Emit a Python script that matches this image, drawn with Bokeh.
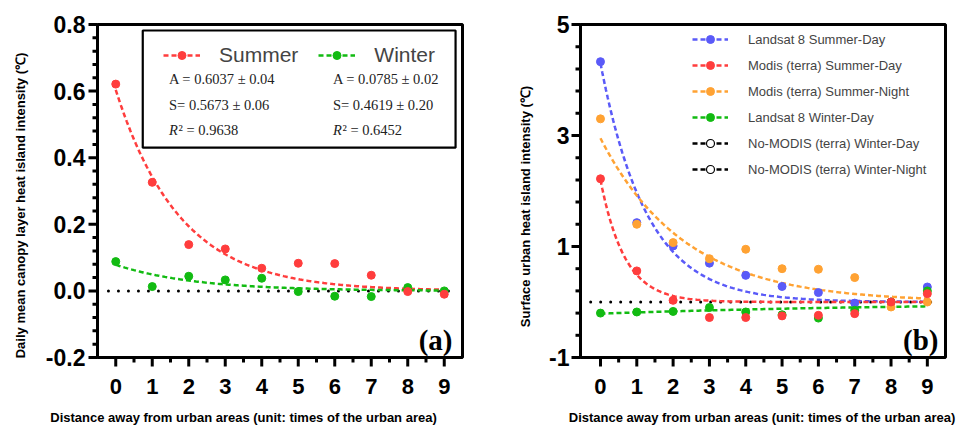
import numpy as np
from bokeh.plotting import figure
from bokeh.layouts import row
from bokeh.core.properties import value
from bokeh.models import Range1d, Legend, LegendItem
from bokeh.embed import file_html
from bokeh.resources import INLINE

# ---------------- data ----------------
distance = [0, 1, 2, 3, 4, 5, 6, 7, 8, 9]
x_tick_labels = ["0", "1", "2", "3", "4", "5", "6", "7", "8", "9"]
x_minor = [0.5, 1.5, 2.5, 3.5, 4.5, 5.5, 6.5, 7.5, 8.5]

# panel (a): canopy layer heat island intensity
summer_canopy = [0.621, 0.326, 0.139, 0.126, 0.068, 0.083, 0.082, 0.047, -0.002, -0.010]
winter_canopy = [0.088, 0.013, 0.044, 0.033, 0.038, -0.002, -0.016, -0.017, 0.010, 0.000]
summer_fit_A, summer_fit_S = 0.6037, 0.5673
winter_fit_A, winter_fit_S = 0.0785, 0.4619
y_ticks_a = [-0.2, 0.0, 0.2, 0.4, 0.6, 0.8]
y_tick_labels_a = ["-0.2", "0.0", "0.2", "0.4", "0.6", "0.8"]

# panel (b): surface urban heat island intensity
landsat_summer_day = [4.33, 1.43, 1.01, 0.70, 0.48, 0.28, 0.17, -0.02, 0.00, 0.27]
modis_summer_day = [2.22, 0.56, 0.03, -0.28, -0.28, -0.25, -0.24, -0.21, 0.00, 0.15]
modis_summer_night = [3.30, 1.40, 1.07, 0.78, 0.95, 0.60, 0.59, 0.44, -0.09, 0.00]
landsat_winter_day = [-0.20, -0.18, -0.17, -0.10, -0.18, -0.23, -0.29, -0.15, 0.00, 0.20]
no_modis_winter_day = []
no_modis_winter_night = []
# estimated exponential fit parameters (A, S) for y = A*exp(-S*x)
fit_landsat_summer_day = (4.30, 0.78)
fit_modis_summer_day = (2.20, 1.50)
fit_modis_summer_night = (2.95, 0.43)
fit_landsat_winter_day = (-0.21, 0.11)
y_ticks_b = [-1, 1, 3, 5]
y_tick_labels_b = ["-1", "1", "3", "5"]

RED = "#FF3D3D"
GREEN = "#12BB12"
BLUE = "#5A5AF8"
ORANGE = "#FFA233"
FONT = "Liberation Sans"
SERIF = "Liberation Serif"
XLABEL = "Distance away from urban areas (unit: times of the urban area)"
HEIGHT = 425

xfit = np.linspace(0, 9, 181)


def fit(A, S):
    return A * np.exp(-S * xfit)


def minor_between(major, n):
    out = []
    for a, b in zip(major[:-1], major[1:]):
        step = (b - a) / (n + 1)
        out += [round(a + step * k, 4) for k in range(1, n + 1)]
    return out


class Panel:
    """Figure whose frame is the whole canvas; the plotting box sits at pixel L..R, T..B."""

    def __init__(self, W, L, R, T, B, x0, x1, y0, y1):
        self.x0, self.x1, self.y0, self.y1 = x0, x1, y0, y1
        self.L, self.B = L, B
        self.sx = (x1 - x0) / (R - L)
        self.sy = (y1 - y0) / (B - T)
        self.p = figure(width=W, height=HEIGHT,
                        x_range=Range1d(x0 - L * self.sx, x1 + (W - R) * self.sx),
                        y_range=Range1d(y0 - (HEIGHT - B) * self.sy, y1 + T * self.sy),
                        min_border=0, x_axis_location=None, y_axis_location=None,
                        output_backend="svg", toolbar_location=None)
        self.p.grid.visible = False
        self.p.outline_line_color = None
        self.p.title.visible = False

    def X(self, px):
        return self.x0 + (px - self.L) * self.sx

    def Y(self, py):
        return self.y0 + (self.B - py) * self.sy

    def axes(self, yticks, yminor, ylabels, ylab_right_px):
        p, x0, x1, y0, y1 = self.p, self.x0, self.x1, self.y0, self.y1
        p.quad(left=[x0], right=[x1], bottom=[y0], top=[y1], fill_color=None,
               line_color="black", line_width=3)
        sx0, sy0, sx1, sy1 = [], [], [], []
        for t, ln in [(t, 9) for t in distance] + [(t, 5) for t in x_minor]:
            sx0.append(t); sx1.append(t); sy0.append(y0); sy1.append(y0 - ln * self.sy)
        for t, ln in [(t, 9) for t in yticks] + [(t, 5) for t in yminor]:
            sx0.append(x0); sx1.append(x0 - ln * self.sx); sy0.append(t); sy1.append(t)
        p.segment(x0=sx0, y0=sy0, x1=sx1, y1=sy1, line_color="black", line_width=3)
        self.yticks, self.ylabels, self.ylab_right_px = yticks, ylabels, ylab_right_px

    def labels(self, xtitle_cx, ytitle, ytitle_cx, ytitle_cy):
        p = self.p
        p.text(x=distance, y=[self.Y(386)] * len(distance), text=x_tick_labels,
               text_font=value(FONT), text_font_size="22px", text_font_style="bold",
               text_align="center", text_baseline="middle", text_color="black")
        p.text(x=[self.X(self.ylab_right_px)] * len(self.yticks), y=self.yticks, text=self.ylabels,
               text_font=value(FONT), text_font_size="23px", text_font_style="bold",
               text_align="right", text_baseline="middle", text_color="black")
        p.text(x=[self.X(xtitle_cx)], y=[self.Y(417)], text=[XLABEL], text_font=value(FONT),
               text_font_size="13px", text_font_style="bold", text_align="center",
               text_baseline="middle", text_color="black")
        p.text(x=[self.X(ytitle_cx)], y=[self.Y(ytitle_cy)], text=[ytitle], angle=np.pi / 2,
               text_font=value(FONT), text_font_size="13px", text_font_style="bold",
               text_align="center", text_baseline="middle", text_color="black")


# ---------------- panel (a) ----------------
A = Panel(480, 97, 462, 24, 357, -0.5, 9.5, -0.2, 0.8)
p1 = A.p
A.axes(y_ticks_a, minor_between(y_ticks_a, 4), y_tick_labels_a, 85)
# legend box
p1.quad(left=[0.74], right=[9.31], bottom=[0.43], top=[0.782], fill_color=None,
        line_color="black", line_width=2.2)

p1.line([-0.2, 9.3], [0, 0], line_color="black", line_width=3, line_dash="0 10", line_cap="round")
ls = p1.line(xfit, fit(summer_fit_A, summer_fit_S), line_color=RED, line_width=2.5, line_dash="5 3")
lw = p1.line(xfit, fit(winter_fit_A, winter_fit_S), line_color=GREEN, line_width=2.5, line_dash="5 3")
pw = p1.scatter(distance, winter_canopy, size=8, color=GREEN)
ps = p1.scatter(distance, summer_canopy, size=8, color=RED)

A.labels(243, "Daily mean canopy layer heat island intensity (\u2103)", 20, 205)

stats_cols = [1.46, 5.95]
stats_A = ["A = 0.6037 \u00b1 0.04", "A = 0.0785 \u00b1 0.02"]
stats_S = ["S= 0.5673 \u00b1 0.06", "S= 0.4619 \u00b1 0.20"]
stats_R2 = ["\u00b2 = 0.9638", "\u00b2 = 0.6452"]
p1.text(x=stats_cols * 2, y=[0.637, 0.637, 0.559, 0.559], text=stats_A + stats_S,
        text_font=value(SERIF), text_font_size="14.5px", text_baseline="middle", text_align="left",
        text_color="#222222")
p1.text(x=stats_cols, y=[0.484, 0.484], text=["R", "R"], text_font=value(SERIF),
        text_font_size="14.5px", text_font_style="italic", text_baseline="middle",
        text_align="left", text_color="#222222")
p1.text(x=stats_cols, y=[0.484, 0.484], x_offset=9.5, text=stats_R2, text_font=value(SERIF),
        text_font_size="14.5px", text_baseline="middle", text_align="left", text_color="#222222")
p1.text(x=[A.X(452)], y=[A.Y(339)], text=["(a)"], text_font=value(SERIF), text_font_size="29px",
        text_font_style="bold", text_align="right", text_baseline="middle", text_color="black")

leg1 = Legend(items=[LegendItem(label="Summer", renderers=[ls, ps]),
                     LegendItem(label="Winter", renderers=[lw, pw])],
              orientation="horizontal", location=(163, 358), glyph_width=37, glyph_height=20,
              label_standoff=19, spacing=20, padding=0, margin=0,
              label_text_font=FONT, label_text_font_size="21px",
              border_line_color=None, background_fill_alpha=0)
p1.add_layout(leg1)

# ---------------- panel (b) ----------------
Bp = Panel(489, 100, 465, 24, 357, -0.55, 9.5, -1, 5)
p2 = Bp.p
Bp.axes(y_ticks_b, minor_between(y_ticks_b, 4), y_tick_labels_b, 89)

p2.line([-0.27, 9.3], [0, 0], line_color="black", line_width=3, line_dash="0 10", line_cap="round")
series = [("Landsat 8 Summer-Day", landsat_summer_day, fit_landsat_summer_day, BLUE),
          ("Modis (terra) Summer-Day", modis_summer_day, fit_modis_summer_day, RED),
          ("Modis (terra) Summer-Night", modis_summer_night, fit_modis_summer_night, ORANGE),
          ("Landsat 8 Winter-Day", landsat_winter_day, fit_landsat_winter_day, GREEN)]
lines = {}
for name, vals, (fa, fs), col in series:
    lines[name] = p2.line(xfit, fit(fa, fs), line_color=col, line_width=2.5, line_dash="5 3")
pts = {}
for name in ["Landsat 8 Summer-Day", "Landsat 8 Winter-Day", "Modis (terra) Summer-Night",
             "Modis (terra) Summer-Day"]:
    vals, col = [(v, c) for n, v, f, c in series if n == name][0]
    pts[name] = p2.scatter(distance, vals, size=8, color=col)

items = [LegendItem(label=n, renderers=[lines[n], pts[n]]) for n, _, _, _ in series]
for name, vals in [("No-MODIS (terra) Winter-Day", no_modis_winter_day),
                   ("No-MODIS (terra) Winter-Night", no_modis_winter_night)]:
    ys = vals if vals else [np.nan]
    xs = distance[:len(ys)]
    l = p2.line(xs, ys, line_color="black", line_width=2.5, line_dash="5 3")
    c = p2.scatter(xs, ys, size=8, fill_color="white", line_color="black", line_width=1.2)
    items.append(LegendItem(label=name, renderers=[l, c]))

Bp.labels(281.5, "Surface urban heat island intensity (\u2103)", 45, 206)
p2.text(x=[Bp.X(458)], y=[Bp.Y(339)], text=["(b)"], text_font=value(SERIF), text_font_size="29px",
        text_font_style="bold", text_align="right", text_baseline="middle", text_color="black")

leg2 = Legend(items=items, location=(212, 246), glyph_width=36, glyph_height=20, label_height=20,
              label_standoff=20, spacing=6, padding=0, margin=0,
              label_text_font=FONT, label_text_font_size="13px",
              border_line_color=None, background_fill_alpha=0)
p2.add_layout(leg2)

layout = row(p1, p2)
open("out.html", "w").write(file_html(layout, INLINE))
